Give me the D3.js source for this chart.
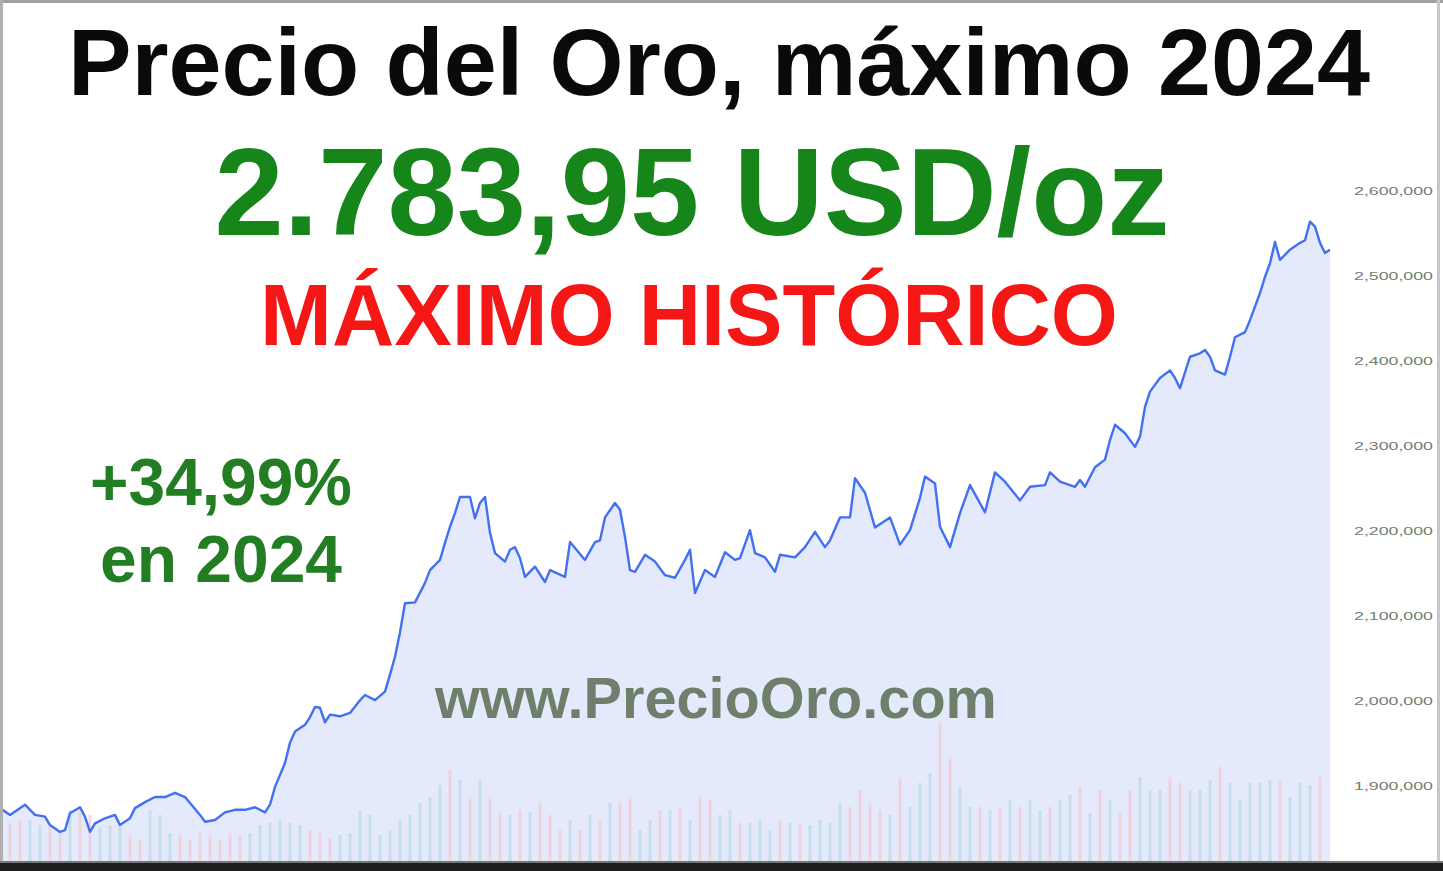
<!DOCTYPE html>
<html><head><meta charset="utf-8">
<script src="https://cdn.jsdelivr.net/npm/d3@7"></script>
<style>html,body{margin:0;padding:0;background:#fff;overflow:hidden}svg{display:block}</style>
</head><body>
<svg id="c" width="1443" height="871"></svg>
<script>
// ---- DATA ----
const days = [0,2,5,7,9,10,12,13,14,16,17,18,19,21,23,24,26,27,29,31,33,35,37,38,40,41,43,45,47,49,51,53,54,55,57,58,59,61,62,63,64,65,66,68,70,72,73,75,77,78,79,80,81,83,85,86,88,89,90,91,92,94,95,96,97,98,99,101,102,103,104,105,107,109,110,113,114,117,119,120,121,123,124,125,126,127,129,131,133,135,137,138,139,141,143,145,147,148,150,151,153,155,156,159,161,163,165,166,168,170,171,173,175,178,180,182,184,185,187,188,190,192,194,197,199,201,204,206,209,210,212,215,216,217,219,221,222,223,225,227,228,229,230,232,234,235,236,238,240,241,242,243,245,246,247,249,250,251,252,253,254,255,256,258,260,261,262,263,264,265,266];
const prices = [1874,1866,1878,1866,1864,1854,1846,1848,1868,1875,1864,1846,1856,1862,1866,1854,1862,1874,1881,1887,1887,1892,1887,1880,1866,1858,1860,1869,1872,1872,1875,1869,1878,1899,1927,1951,1964,1972,1981,1993,1992,1975,1984,1982,1986,2001,2007,2001,2011,2031,2052,2081,2115,2116,2139,2154,2166,2186,2205,2221,2240,2240,2215,2233,2240,2198,2174,2164,2178,2181,2168,2146,2158,2140,2154,2146,2187,2166,2187,2189,2216,2233,2225,2193,2154,2152,2172,2164,2148,2145,2166,2178,2127,2154,2146,2175,2166,2168,2201,2174,2169,2152,2172,2169,2181,2199,2181,2189,2216,2216,2262,2245,2204,2216,2184,2201,2239,2264,2256,2205,2181,2221,2254,2222,2269,2258,2236,2252,2254,2269,2258,2252,2260,2252,2275,2284,2307,2325,2315,2299,2311,2346,2364,2380,2389,2380,2368,2405,2409,2413,2405,2389,2384,2405,2428,2434,2448,2464,2480,2499,2515,2540,2519,2531,2539,2542,2564,2558,2539,2527,2531];
// volume every 2 days (thousands)
const volumes = [27,39,42,42,37,35,29,52,49,47, 35,37,35,27,22,52,47,29,27,22, 29,27,22,29,27,29,37,39,42,39, 37,32,29,24,27,29,52,47,27,32, 42,47,59,65,77,92,82,65,82,65, 49,47,52,50,59,47,32,42,32,47, 42,59,59,65,32,42,52,52,55,42, 65,62,47,52,39,39,42,32,42,39, 39,37,42,39,59,55,72,59,52,47, 85,55,79,89,139,105,75,55,55,52, 55,62,55,62,52,55,62,67,75,49, 72,62,49,72,85,72,72,85,79,72, 72,82,95,79,62,79,79,82,82,65, 79,77,85];
// volume bar direction: "u" up day, "d" down day
const volDir = ["ddduuddudd","uuudduuudd","ddddduuuuu","uddduuuuuu","uuuuududud",
  "dududddudu","dudduududu","dduuduuudu","duuuuddddu","duuudduudu",
  "duduuduudu","dudduuuddu","uuduuuuudu","uud"].join("");
const yTicks = [1900,2000,2100,2200,2300,2400,2500,2600];
const titleText = "Precio del Oro, máximo 2024";
const priceText = "2.783,95 USD/oz";
const recordText = "MÁXIMO HISTÓRICO";
const changeText = ["+34,99%","en 2024"];
const siteText = "www.PrecioOro.com";

// ---- CHART ----
const svg = d3.select("#c");
const W = 1443, H = 871, plotBottom = 862;
const x = d3.scaleLinear().domain([0, 266]).range([0, 1330]);
const y = d3.scaleLinear().domain([1900, 2600]).range([786, 191]);
const yv = d3.scaleLinear().domain([0, 250]).range([plotBottom, plotBottom - 250]);

const data = days.map((d,i)=>({d, p: prices[i]}));

svg.append("rect").attr("width",W).attr("height",H).attr("fill","#fff");

// area
svg.append("path").datum(data)
  .attr("d", d3.area().x(a=>x(a.d)).y0(plotBottom).y1(a=>y(a.p)))
  .attr("fill","#e4eafb");

// volume bars
svg.append("g").selectAll("rect").data(volumes).join("rect")
  .attr("x",(v,i)=>x(i*2)-1.5)
  .attr("width",3)
  .attr("y",v=>yv(v))
  .attr("height",v=>plotBottom-yv(v))
  .attr("fill",(v,i)=> volDir[i]==="d" ? "#f2c9d4" : "#bcdbe6")
  .attr("opacity",0.75);

// line
svg.append("path").datum(data)
  .attr("d", d3.line().x(a=>x(a.d)).y(a=>y(a.p)))
  .attr("fill","none").attr("stroke","#4370f0").attr("stroke-width",2.4)
  .attr("stroke-linejoin","round");

// y axis
const ax = svg.append("g").attr("transform","translate(1354,0)")
  .call(d3.axisRight(y).tickValues(yTicks).tickSize(0).tickPadding(0)
    .tickFormat(v=>d3.format(",")(v*1000)));
ax.select(".domain").remove();
ax.selectAll("text").attr("font-family","Liberation Sans, Arial, sans-serif")
  .attr("font-size",11).attr("fill","#6f806f").attr("dy","0.32em")
  .attr("textLength",79).attr("lengthAdjust","spacingAndGlyphs");

// frame
svg.append("rect").attr("x",0).attr("y",0).attr("width",W).attr("height",3).attr("fill","#a0a0a0");
svg.append("rect").attr("x",0).attr("y",0).attr("width",3).attr("height",H).attr("fill","#b0b0b0");
svg.append("rect").attr("x",1437).attr("y",0).attr("width",3).attr("height",H).attr("fill","#c8c8c8");
svg.append("rect").attr("x",0).attr("y",plotBottom).attr("width",W).attr("height",H-plotBottom).attr("fill","#1e1e1e");
svg.append("rect").attr("x",0).attr("y",plotBottom-1).attr("width",W).attr("height",2).attr("fill","#777");

// texts
function fitText(sel, target){
  const n = sel.node();
  const w = n.getComputedTextLength();
  const fs = parseFloat(sel.attr("font-size"));
  sel.attr("font-size", fs*target/w);
}
const F = "Liberation Sans, Arial, Helvetica, sans-serif";
const t1 = svg.append("text").attr("x",719).attr("y",95).attr("text-anchor","middle")
  .attr("font-family",F).attr("font-weight","bold").attr("font-size",84).attr("fill","#0a0a0a").text(titleText);
fitText(t1, 1302);
const t2 = svg.append("text").attr("x",692).attr("y",235).attr("text-anchor","middle")
  .attr("font-family",F).attr("font-weight","bold").attr("font-size",118).attr("fill","#16861a").text(priceText);
fitText(t2, 955);
const t3 = svg.append("text").attr("x",689).attr("y",345).attr("text-anchor","middle")
  .attr("font-family",F).attr("font-weight","bold").attr("font-size",84).attr("fill","#f51616").text(recordText);
fitText(t3, 858);
const t4 = svg.append("text").attr("x",221).attr("y",505).attr("text-anchor","middle")
  .attr("font-family",F).attr("font-weight","bold").attr("font-size",62).attr("fill","#237e23").text(changeText[0]);
fitText(t4, 262);
const t5 = svg.append("text").attr("x",221).attr("y",582).attr("text-anchor","middle")
  .attr("font-family",F).attr("font-weight","bold").attr("font-size",62).attr("fill","#237e23").text(changeText[1]);
fitText(t5, 242);
const t6 = svg.append("text").attr("x",716).attr("y",718).attr("text-anchor","middle")
  .attr("font-family",F).attr("font-weight","bold").attr("font-size",50).attr("fill","#6e806c").text(siteText);
fitText(t6, 562);
</script>
</body></html>
